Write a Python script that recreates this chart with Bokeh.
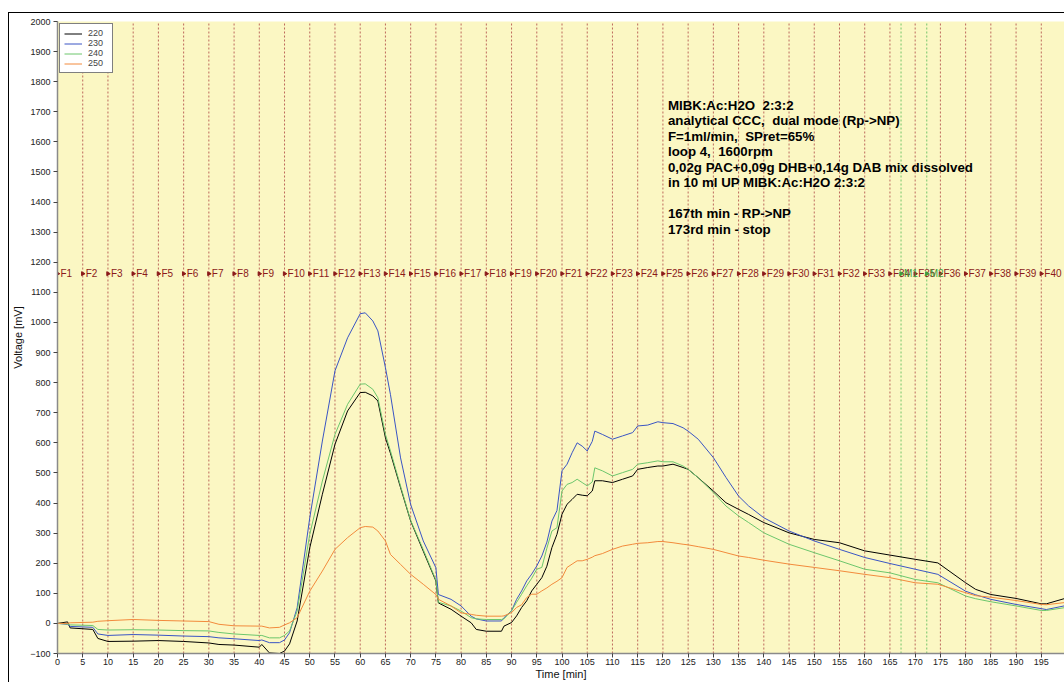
import numpy as np
from bokeh.plotting import figure
from bokeh.layouts import column
from bokeh.models import Range1d, FixedTicker, ColumnDataSource
from bokeh.core.properties import value
from bokeh.embed import file_html
from bokeh.resources import INLINE

# Detector traces (mV) at four wavelengths, sampled along the run time (min)
time_min = [0, 2, 2.5, 7, 8, 10, 15, 20, 25, 30,
            32, 35, 40, 40.5, 42, 44, 45, 46, 47.5, 50,
            52.5, 55, 57.5, 60, 61, 62.5, 63.5, 65, 66, 68,
            70, 72.5, 75, 75.5, 78, 80, 82, 83, 85, 88,
            88.5, 90, 91, 92, 93, 94, 95, 96, 97, 98,
            99, 100, 101, 102, 103, 104, 105, 106, 106.5, 108,
            110, 112, 114, 115, 117, 119, 120, 122, 124, 125,
            127, 130, 132.5, 135, 137, 140, 145, 150, 155, 160,
            165, 170, 174.5, 180, 182, 185, 190, 195, 196, 199.5]

v220 = [0, 5, -15, -20, -50, -60, -59, -57, -60, -65,
        -70, -72, -79, -70, -98, -100, -92, -68, 8, 251,
        429, 595, 706, 767, 768, 756, 739, 617, 565, 451,
        340, 240, 141, 68, 47, 24, 2, -20, -26, -26,
        -9, 3, 25, 53, 75, 108, 130, 152, 190, 252,
        296, 363, 396, 412, 429, 426, 424, 440, 474, 474,
        468, 479, 490, 512, 518, 523, 523, 529, 518, 512,
        484, 440, 401, 379, 362, 335, 301, 279, 268, 241,
        227, 213, 201, 135, 113, 96, 83, 65, 65, 82]

v230 = [0, -3, -10, -13, -35, -40, -37, -39, -42, -44,
        -48, -51, -57, -55, -64, -64, -55, -31, 52, 351,
        606, 839, 949, 1029, 1032, 1005, 972, 850, 760, 550,
        395, 274, 185, 96, 80, 58, 24, 15, 8, 8,
        19, 42, 80, 108, 141, 164, 191, 224, 270, 340,
        375, 507, 529, 567, 600, 589, 573, 605, 639, 628,
        612, 623, 634, 656, 659, 670, 667, 664, 650, 639,
        612, 551, 485, 423, 390, 351, 307, 274, 246, 219,
        199, 180, 163, 107, 95, 80, 63, 49, 46, 58]

v240 = [0, -2, -5, -7, -20, -22, -21, -22, -24, -25,
        -30, -35, -40, -40, -48, -48, -40, -25, 41, 296,
        473, 628, 728, 795, 796, 778, 750, 628, 573, 456,
        342, 245, 144, 70, 58, 41, 19, 15, 13, 13,
        15, 42, 70, 97, 125, 150, 180, 186, 250, 307,
        318, 440, 462, 468, 479, 468, 457, 470, 517, 507,
        490, 501, 512, 529, 534, 540, 537, 537, 523, 512,
        484, 435, 390, 357, 335, 301, 263, 235, 208, 180,
        168, 146, 135, 91, 82, 72, 58, 43, 43, 52]

v250 = [0, 0, 2, 4, 7, 9, 13, 10, 8, 6,
        -3, -8, -9, -9, -15, -13, -5, 2, 19, 107,
        174, 246, 285, 318, 322, 320, 307, 274, 229, 196,
        163, 130, 96, 80, 58, 35, 30, 27, 24, 24,
        25, 36, 53, 62, 86, 97, 97, 108, 118, 130,
        140, 152, 186, 197, 208, 208, 213, 220, 225, 232,
        246, 257, 263, 266, 268, 272, 272, 268, 263, 261,
        255, 246, 235, 224, 219, 210, 197, 186, 175, 163,
        152, 135, 130, 102, 92, 87, 76, 63, 62, 69]

series_names = ["220", "230", "240", "250"]
series_values = [v220, v230, v240, v250]
series_colors = ["#000000", "#3a55c4", "#6cc66c", "#f28a3c"]

# Fraction collector marks (every 5 min) and the mode-switch marks
fraction_times = list(range(0, 200, 5))
fraction_labels = ["F%d" % (i + 1) for i in range(len(fraction_times))]
marker_times = [167.2, 172.3]
marker_labels = ["M1", "M2"]
label_level = 1162

NB = "\u00a0"
notes = [
    "MIBK:Ac:H2O" + NB + " 2:3:2",
    "analytical CCC," + NB + " dual mode (Rp->NP)",
    "F=1ml/min," + NB + " SPret=65%",
    "loop 4," + NB + " 1600rpm",
    "0,02g PAC+0,09g DHB+0,14g DAB mix dissolved",
    "in 10 ml UP MIBK:Ac:H2O 2:3:2",
    "",
    "167th min - RP->NP",
    "173rd min - stop",
]

FONT = "Liberation Sans"

p = figure(width=1055, height=669, output_backend="svg", toolbar_location=None,
           x_range=Range1d(0, 199.6), y_range=Range1d(-100, 2000),
           min_border_left=47, min_border_right=0, min_border_top=8, min_border_bottom=29)
p.background_fill_color = "#fbf7c3"
p.border_fill_color = "white"
p.outline_line_color = None
p.xgrid.visible = False
p.ygrid.visible = False

for ax in (p.xaxis[0], p.yaxis[0]):
    ax.axis_line_color = "#8a8a8a"
    ax.axis_line_width = 1.5
    ax.major_tick_line_color = "#444444"
    ax.major_tick_out = 4
    ax.major_tick_in = 0
    ax.minor_tick_line_color = None
    ax.major_label_text_font = FONT
    ax.major_label_text_font_size = "9px"
    ax.major_label_text_color = "#222222"
    ax.axis_label_text_font = FONT
    ax.axis_label_text_font_size = "11px"
    ax.axis_label_text_font_style = "normal"
    ax.axis_label_text_color = "#111111"

p.xaxis.ticker = FixedTicker(ticks=list(range(0, 200, 5)))
p.yaxis.ticker = FixedTicker(ticks=list(range(-100, 2001, 100)))
p.xaxis.axis_label = "Time [min]"
p.yaxis.axis_label = "Voltage [mV]"
p.xaxis.major_label_standoff = 1
p.yaxis.major_label_standoff = 3
p.xaxis.axis_label_standoff = 0
p.yaxis.axis_label_standoff = 3

# fraction boundaries
for t in fraction_times:
    p.segment(x0=t, y0=-100, x1=t, y1=2000, line_color="#a8393a", line_alpha=0.75,
              line_dash="2 2", line_width=1)
for t in marker_times:
    p.segment(x0=t, y0=-100, x1=t, y1=2000, line_color="#5cbc5c", line_alpha=0.85,
              line_dash="2 2", line_width=1)

# traces
for name, vals, col in zip(series_names, series_values, series_colors):
    p.line(time_min, vals, line_color=col, line_width=1, legend_label=name)

# fraction labels
fsrc = ColumnDataSource(dict(x=fraction_times, y=[label_level] * len(fraction_times),
                             text=fraction_labels))
p.scatter("x", "y", source=fsrc, marker="triangle", angle=-np.pi / 2, size=4,
          fill_color="#8b1a1a", line_color="#8b1a1a")
p.text("x", "y", text="text", source=fsrc, x_offset=3, text_baseline="middle",
       text_align="left", text_font=value(FONT), text_font_size="10px",
       text_color="#8b1a1a")
msrc = ColumnDataSource(dict(x=marker_times, y=[label_level] * len(marker_times),
                             text=marker_labels))
p.scatter("x", "y", source=msrc, marker="triangle", angle=-np.pi / 2, size=4,
          fill_color="#3f9f3f", line_color="#3f9f3f")
p.text("x", "y", text="text", source=msrc, x_offset=3, text_baseline="middle",
       text_align="left", text_font=value(FONT), text_font_size="10px",
       text_color="#3f9f3f")

# run description
note_x = 121.0
note_top = 1721
note_step = 51.5
p.text([note_x] * len(notes), [note_top - i * note_step for i in range(len(notes))],
       text=notes, text_baseline="middle", text_align="left",
       text_font=value(FONT), text_font_size="13.3px", text_font_style="bold",
       text_color="#000000")

lg = p.legend[0]
lg.location = "top_left"
lg.margin = 2
lg.padding = 4
lg.spacing = 0
lg.label_height = 9
lg.glyph_height = 9
lg.glyph_width = 18
lg.label_standoff = 6
lg.label_text_font = FONT
lg.label_text_font_size = "9px"
lg.border_line_color = "#000000"
lg.border_line_width = 1
lg.background_fill_color = "white"
lg.background_fill_alpha = 1.0

layout = column(p, margin=(12, 0, 0, 8),
                styles={"border-left": "1px solid black", "border-top": "1px solid black"})

open("out.html", "w").write(file_html(layout, INLINE))
